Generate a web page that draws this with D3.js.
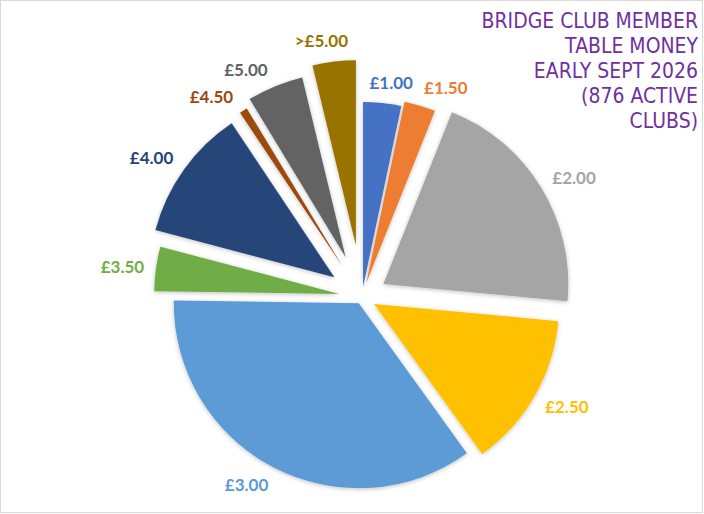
<!DOCTYPE html>
<html>
<head>
<meta charset="utf-8">
<script src="https://cdn.jsdelivr.net/npm/d3@7"></script>
<style>
    html, body { margin: 0; padding: 0; background: #fff; }
    svg { display: block; }
</style>
</head>
<body>
<svg id="chart" width="704" height="514"></svg>
<script>
// Table money bands and number of clubs in each (876 active clubs)
const bands = ["£1.00", "£1.50", "£2.00", "£2.50", "£3.00", "£3.50", "£4.00", "£4.50", "£5.00", ">£5.00"];
const clubs = [29, 24, 179, 119, 308, 34, 101, 6, 43, 33];
const titleLines = ["BRIDGE CLUB MEMBER", "TABLE MONEY", "EARLY SEPT 2026", "(876 ACTIVE", "CLUBS)"];

// Office palette, one per band
const colors = ["#4472C4", "#ED7D31", "#A5A5A5", "#FFC000", "#5B9BD5", "#70AD47", "#264478", "#9E480E", "#636363", "#997300"];
// Point explosion (px) and label angle nudges (deg) as set in the source chart
const explode = [10, 15, 25, 14, 7, 23, 34, 36, 43, 52];
const labelNudge = [1.9, 5.3, 2.3, -1.7, 4.2, -0.7, -2.5, -5.2, -5.6, -2.8];

const width = 704;
const height = 514;
const center = { x: 362, y: 297 };
const radius = 185;
const labelPad = 11;

const svg = d3.select("#chart");

svg.append("rect")
    .attr("x", 0.5)
    .attr("y", 0.5)
    .attr("width", width - 2)
    .attr("height", height - 2)
    .attr("fill", "#fff")
    .attr("stroke", "#d9d9d9");

const defs = svg.append("defs");
defs.append("filter")
    .attr("id", "soft")
    .attr("x", "-20%")
    .attr("y", "-20%")
    .attr("width", "140%")
    .attr("height", "140%")
    .append("feDropShadow")
    .attr("dx", 0)
    .attr("dy", 1)
    .attr("stdDeviation", 2)
    .attr("flood-color", "#000")
    .attr("flood-opacity", 0.25);

const data = bands.map((band, i) => ({ band, value: clubs[i], color: colors[i], explode: explode[i], nudge: labelNudge[i] }));

const pie = d3.pie()
    .value((d) => d.value)
    .sort(null)
    .startAngle(0)
    .endAngle(2 * Math.PI);

const arc = d3.arc().innerRadius(0).outerRadius(radius);

const arcs = pie(data);

// apex of each slice after explosion along its bisector
arcs.forEach((a) => {
    const mid = (a.startAngle + a.endAngle) / 2;
    a.apex = {
        x: center.x + a.data.explode * Math.sin(mid),
        y: center.y - a.data.explode * Math.cos(mid),
    };
});

svg.append("g")
    .attr("class", "slices")
    .selectAll("path")
    .data(arcs)
    .join("path")
    .attr("transform", (d) => `translate(${d.apex.x},${d.apex.y})`)
    .attr("d", arc)
    .attr("fill", (d) => d.data.color)
    .attr("filter", "url(#soft)");

const labels = svg.append("g")
    .attr("class", "labels")
    .selectAll("text")
    .data(arcs)
    .join("text")
    .attr("font-family", "Lato, 'Open Sans', sans-serif")
    .attr("font-weight", "bold")
    .attr("font-size", 17)
    .attr("fill", (d) => d.data.color)
    .attr("text-anchor", "middle")
    .attr("dy", "0.36em")
    .text((d) => d.data.band);

// outside end: push the label box just clear of the arc
labels.each(function (d) {
    const w = this.getComputedTextLength();
    const h = 14;
    const ang = (d.startAngle + d.endAngle) / 2 + (d.data.nudge * Math.PI) / 180;
    const ux = Math.sin(ang);
    const uy = -Math.cos(ang);
    const dist = radius + labelPad + Math.abs(ux) * w / 2 + Math.abs(uy) * h / 2;
    d3.select(this)
        .attr("x", d.apex.x + ux * dist)
        .attr("y", d.apex.y + uy * dist);
});

svg.append("g")
    .attr("class", "title")
    .attr("transform", "translate(698,0) scale(0.92,1)")
    .selectAll("text")
    .data(titleLines)
    .join("text")
    .attr("x", 0)
    .attr("y", (d, i) => 28.3 + i * 25)
    .attr("text-anchor", "end")
    .attr("font-family", "'DejaVu Sans', Verdana, sans-serif")
    .attr("font-size", 20.5)
    .attr("fill", "#7030A0")
    .text((d) => d);
</script>
</body>
</html>
